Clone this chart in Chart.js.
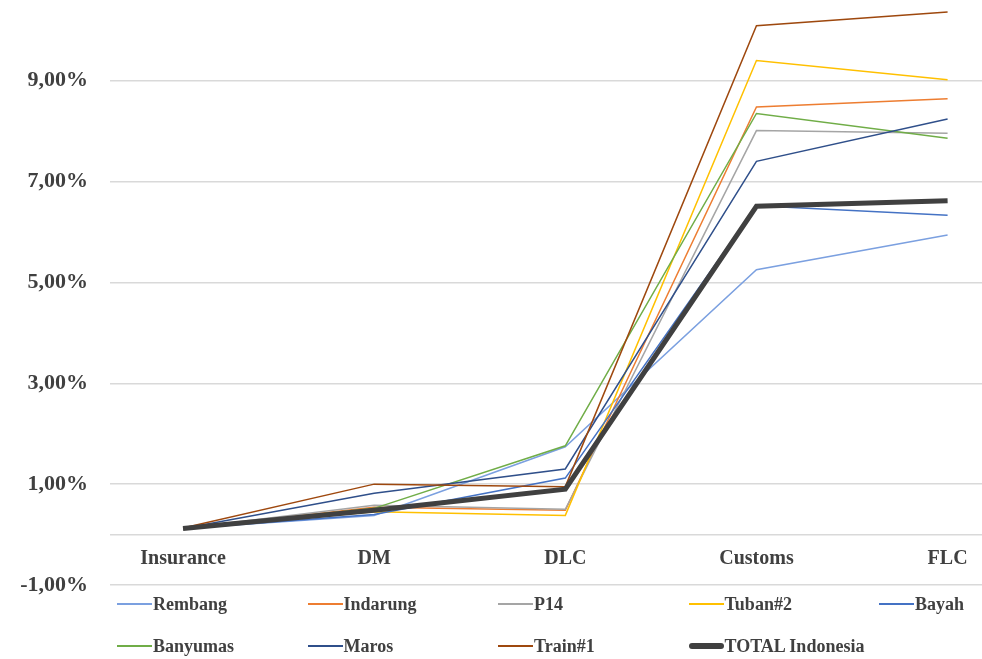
<!DOCTYPE html>
<html lang="en">
<head>
<meta charset="UTF-8">
<title>Cost share by stage</title>
<script src="https://cdn.jsdelivr.net/npm/chart.js@4"></script>
<style>
  html, body { margin: 0; padding: 0; background: #fff; }
  #wrap { position: relative; width: 982px; height: 659px; overflow: hidden; }
  #wrap canvas { position: absolute; left: 0; top: 0; }
  .legend { position: absolute; left: 117px; top: 583px; display: grid; grid-template-columns: repeat(5, 190.5px); grid-auto-rows: 42px; font: bold 18px "Liberation Serif", serif; color: #404040; }
  .item { display: flex; align-items: center; white-space: nowrap; }
  .swatch { width: 35px; margin-right: 1px; }
</style>
</head>
<body>
<div id="wrap">
  <canvas id="chart" width="982" height="659"></canvas>
  <div class="legend" id="legend"></div>
</div>
<script>
const categories = ['Insurance', 'DM', 'DLC', 'Customs', 'FLC'];
const yTickValues = [-1, 0, 1, 3, 5, 7, 9];

const rembang   = [0.12, 0.38, 1.74, 5.25, 5.94];
const indarung  = [0.12, 0.54, 0.48, 8.48, 8.64];
const p14       = [0.12, 0.58, 0.50, 8.01, 7.96];
const tuban2    = [0.12, 0.45, 0.38, 9.40, 9.02];
const bayah     = [0.12, 0.40, 1.12, 6.52, 6.33];
const banyumas  = [0.12, 0.52, 1.76, 8.35, 7.86];
const maros     = [0.12, 0.82, 1.30, 7.40, 8.24];
const train1    = [0.13, 1.00, 0.95, 10.09, 10.36];
const total     = [0.12, 0.48, 0.90, 6.51, 6.62];

const seriesNames  = ['Rembang', 'Indarung', 'P14', 'Tuban#2', 'Bayah', 'Banyumas', 'Maros', 'Train#1', 'TOTAL Indonesia'];
const seriesData   = [rembang, indarung, p14, tuban2, bayah, banyumas, maros, train1, total];
const seriesColors = ['#7BA0E0', '#ED7D31', '#A5A5A5', '#FFC000', '#4472C4', '#70AD47', '#2F4F8A', '#9E480E', '#404040'];
const seriesWidths = [1.5, 1.5, 1.5, 1.5, 1.5, 1.5, 1.5, 1.5, 5];

const fmt = v => v.toFixed(2).replace('.', ',') + '%';

const datasets = seriesNames.map((name, i) => ({
  label: name,
  data: seriesData[i].map((v, k) => ({ x: k, y: v })),
  borderColor: seriesColors[i],
  backgroundColor: seriesColors[i],
  borderWidth: seriesWidths[i],
  pointRadius: 0,
  tension: 0,
  order: seriesNames.length - i   // later series drawn on top, like the original
}));

new Chart(document.getElementById('chart'), {
  type: 'line',
  data: { datasets },
  options: {
    responsive: false,
    animation: false,
    layout: { padding: { top: 0, right: 0, bottom: 74, left: 0 } },
    plugins: { legend: { display: false }, tooltip: { enabled: false } },
    scales: {
      x: {
        type: 'linear',
        position: { y: 0 },
        min: -0.382,
        max: 4.18,
        afterBuildTicks: s => { s.ticks = categories.map((c, i) => ({ value: i })); },
        afterFit: s => { s.height = 0; },
        ticks: {
          callback: v => categories[v] ?? '',
          color: '#404040',
          font: { family: 'Liberation Serif', size: 20, weight: 'bold' },
          padding: 12,
          maxRotation: 0,
          autoSkip: false
        },
        grid: { display: false, drawTicks: false },
        border: { display: false }
      },
      y: {
        min: -1,
        max: 10.6,
        afterBuildTicks: s => { s.ticks = yTickValues.map(v => ({ value: v })); },
        afterFit: s => { s.width = 110; s.paddingTop = 0; s.paddingBottom = 0; },
        ticks: {
          callback: v => v === 0 ? '' : fmt(v),
          color: '#404040',
          font: { family: 'Liberation Serif', size: 22, weight: 'bold' },
          padding: 22
        },
        grid: { color: '#D9D9D9', lineWidth: 1.5, drawTicks: false },
        border: { display: false }
      }
    }
  }
});

// legend in a fixed 5-column grid, as in the original
const legend = document.getElementById('legend');
seriesNames.forEach((name, i) => {
  const item = document.createElement('div');
  item.className = 'item';
  const sw = document.createElement('span');
  sw.className = 'swatch';
  sw.style.height = (i === seriesNames.length - 1 ? 6 : 2) + 'px';
  sw.style.background = seriesColors[i];
  sw.style.borderRadius = i === seriesNames.length - 1 ? '3px' : '0';
  item.appendChild(sw);
  item.appendChild(document.createTextNode(name));
  legend.appendChild(item);
});
</script>
</body>
</html>
